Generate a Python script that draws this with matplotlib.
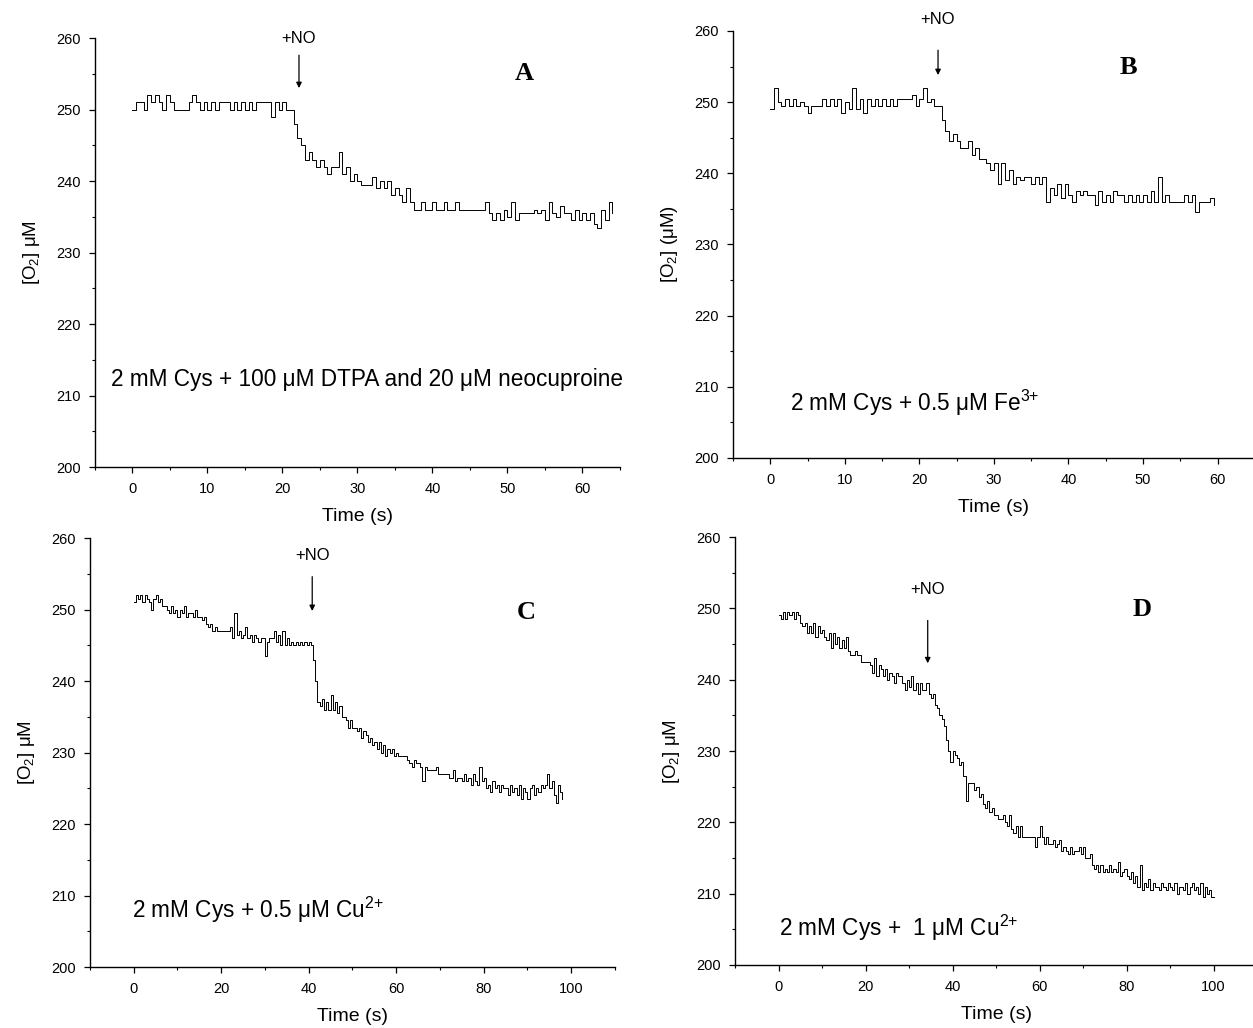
"""O2 consumption traces after NO addition, four conditions (A-D)."""

import matplotlib.pyplot as plt
import numpy as np
from matplotlib.ticker import MultipleLocator

plt.rcParams["font.family"] = ["Liberation Sans", "DejaVu Sans"]
plt.rcParams["mathtext.fontset"] = "custom"
plt.rcParams["mathtext.rm"] = "Liberation Sans"
plt.rcParams["mathtext.default"] = "regular"

# sampling step of each trace (s)
DT_A = 0.5
DT_B = 0.5
DT_C = 0.5
DT_D = 0.5

# [O2] (uM)
O2_A = [
    250, 251, 251, 250, 252, 251, 252, 251, 250, 252,
    251, 250, 250, 250, 250, 251, 252, 251, 250, 251,
    250, 251, 250, 251, 251, 251, 250, 251, 250, 251,
    250, 251, 250, 251, 251, 251, 251, 249, 251, 250,
    251, 250, 250, 248, 246, 245, 243, 244, 243, 242,
    243, 242, 241, 242, 242, 244, 241, 242, 240, 241,
    240, 239.5, 239.5, 239.5, 240.5, 239, 240, 239, 240, 238,
    239, 238, 237, 239, 237, 236, 236, 237, 236, 236,
    237, 236, 236, 237, 236, 236, 237, 236, 236, 236,
    236, 236, 236, 236, 237, 235.5, 234.5, 235.5, 234.5, 236,
    235, 237, 234.5, 235.5, 235.5, 235.5, 235.5, 236, 235.5, 236,
    234.5, 237, 235.5, 235, 236.5, 235.5, 235.5, 234.5, 236, 234.5,
    235.5, 234.5, 235.5, 234, 233.5, 236, 234.5, 237, 235.5,
]

O2_B = [
    249, 252, 250, 249.5, 250.5, 249.5, 250.5, 249.5, 250, 249.5,
    248.5, 249.5, 249.5, 249.5, 250.5, 249.5, 250.5, 249.5, 250.5, 248.5,
    250, 249, 252, 249, 250.5, 248.5, 250.5, 249.5, 250.5, 249.5,
    250.5, 249.5, 250.5, 249.5, 250.5, 250.5, 250.5, 250.5, 251, 249.5,
    250.5, 252, 250, 250.5, 249.5, 249.5, 247.5, 246, 244.5, 245.5,
    244.5, 243.5, 243.5, 244.5, 242.5, 243.5, 242, 242, 241.5, 240.5,
    241.5, 238.5, 241.5, 239, 240.5, 238.5, 239.5, 239, 239.5, 239.5,
    238.5, 239.5, 238.5, 239.5, 236, 238, 237, 238.5, 236.5, 238.5,
    237, 236, 237.5, 237, 237.5, 237, 237, 235.5, 237.5, 236,
    237, 236, 237.5, 237, 237, 236, 237, 236, 237, 236,
    237, 236, 237.5, 236, 239.5, 236, 237, 236, 236, 236,
    236, 237, 236, 237, 234.5, 236, 236, 236, 236.5, 235.5,
]

O2_C = [
    251, 252, 251.5, 252, 251, 252, 251.5, 251, 250, 251.5,
    252, 251, 251.5, 250.5, 250.5, 250, 249.5, 250.5, 249.5, 250,
    249, 250, 249.5, 250.5, 249, 249.5, 249.5, 249, 250, 249,
    249, 248.5, 249, 248, 247.5, 248, 247, 247.5, 247, 247,
    247, 247, 247, 247, 247.5, 246, 249.5, 246.5, 247, 246,
    246.5, 247.5, 246, 246.5, 245.5, 246.5, 246, 245.5, 246, 246,
    243.5, 245.5, 246, 246, 247, 245.5, 246.5, 245, 247, 245,
    246, 245, 245.5, 245, 245.5, 245, 245.5, 245, 245.5, 245,
    245.5, 245, 243, 240, 237, 236.5, 237.5, 236, 237, 236,
    238, 236, 237, 235.5, 236.5, 235, 235, 234.5, 233.5, 234.5,
    233.5, 233.5, 233, 233.5, 232, 233, 232.5, 231.5, 232, 231,
    231.5, 230.5, 231.5, 230, 231, 229.5, 230.5, 230, 230.5, 229.5,
    230, 229.5, 229.5, 229.5, 229.5, 229, 228.5, 228, 229, 228.5,
    228.5, 228, 226, 228, 227.5, 227.5, 227.5, 227.5, 228, 227,
    227, 227, 227, 227, 226.5, 226.5, 227.5, 226, 226.5, 226.5,
    226, 227, 226, 226.5, 225.5, 227, 226, 225.5, 228, 226,
    226.5, 225, 225.5, 224.5, 226, 225, 225.5, 224.5, 225.5, 225,
    225, 224, 225.5, 224.5, 225, 224, 225.5, 223.5, 225, 224.5,
    223.5, 225, 225.5, 224, 225, 224.5, 225.5, 225, 225.5, 227,
    225, 226, 224, 223, 225.5, 224.5, 223.5,
]

O2_D = [
    249, 248.5, 249.5, 248.5, 249.5, 249, 249.5, 248.5, 249.5, 249,
    248, 247.5, 248, 246.5, 247.5, 246.5, 248, 246, 247.5, 246.5,
    247, 246, 245.5, 246.5, 244.5, 246.5, 245, 246, 244.5, 245.5,
    244.5, 246, 244, 243.5, 243.5, 244, 243.5, 243.5, 242.5, 242.5,
    242.5, 242.5, 242, 241, 243, 240.5, 242, 241.5, 240.5, 241.5,
    240, 241, 240.5, 239.5, 241, 240.5, 240.5, 239.5, 238.5, 240,
    239, 240.5, 238.5, 239.5, 238, 239.5, 238.5, 238.5, 239.5, 238,
    237.5, 238, 236.5, 236, 235, 234.5, 233.5, 231.5, 230, 228.5,
    230, 229.5, 229, 228, 228.5, 226.5, 223, 225.5, 225.5, 225.5,
    224.5, 225, 223.5, 224, 222.5, 222, 223, 221.5, 222, 221,
    221, 220.5, 220.5, 221, 220, 219.5, 221, 219, 218.5, 219.5,
    218, 219.5, 218, 218, 218, 218, 218, 218, 216.5, 218,
    219.5, 218, 217, 218, 217, 217, 217.5, 216.5, 217, 217.5,
    216, 216.5, 216, 215.5, 216.5, 215.5, 216, 216, 216.5, 215.5,
    216.5, 215, 215, 215.5, 214, 213.5, 214, 213, 214, 213,
    213.5, 213, 214, 213, 213.5, 213, 214.5, 212.5, 213, 213.5,
    212.5, 212, 213, 211.5, 212.5, 211, 214, 210.5, 211.5, 211,
    212, 210.5, 211.5, 211, 211, 210.5, 211.5, 211, 210.5, 211.5,
    211, 210.5, 211.5, 210, 211, 211, 210.5, 211.5, 210, 211,
    211.5, 210.5, 211, 210, 211.5, 209.5, 211, 210, 210.5, 209.5,
    209.5,
]

LABELS = [
    "2 mM Cys + 100 \u03bcM DTPA and 20 \u03bcM neocuproine",
    "2 mM Cys + 0.5 \u03bcM Fe$^{3{+}}$",
    "2 mM Cys + 0.5 \u03bcM Cu$^{2{+}}$",
    "2 mM Cys +  1 \u03bcM Cu$^{2{+}}$",
]
YLABELS = ["[O$_2$] \u03bcM", "[O$_2$] (\u03bcM)", "[O$_2$] \u03bcM", "[O$_2$] \u03bcM"]
LETTERS = ["A", "B", "C", "D"]
NO_TIME = [22.2, 22.5, 40.8, 34.3]

panels = [
    # data, dt, axes rect, xlim, x major, x minor, +NO text y, arrow start, arrow end,
    # letter pos, condition label pos
    dict(y=O2_A, dt=DT_A, rect=[0.0758, 0.5457, 0.4190, 0.4173], xlim=(-5, 65),
         xmaj=10, xmin=5, no_y=260.0, arr=(257.6, 253.0), letter=(52.3, 255.1),
         lab=(-2.9, 212.2)),
    dict(y=O2_B, dt=DT_B, rect=[0.5850, 0.5545, 0.4165, 0.4154], xlim=(-5, 65),
         xmaj=10, xmin=5, no_y=261.6, arr=(257.3, 253.8), letter=(48.0, 254.8),
         lab=(2.6, 207.8)),
    dict(y=O2_C, dt=DT_C, rect=[0.0718, 0.0593, 0.4190, 0.4173], xlim=(-10, 110),
         xmaj=20, xmin=10, no_y=257.5, arr=(254.6, 249.8), letter=(89.8, 249.6),
         lab=(-0.5, 208.0)),
    dict(y=O2_D, dt=DT_D, rect=[0.5866, 0.0613, 0.4166, 0.4163], xlim=(-10, 110),
         xmaj=20, xmin=10, no_y=252.7, arr=(248.3, 242.3), letter=(83.5, 249.8),
         lab=(0.0, 205.2)),
]

fig = plt.figure(figsize=(12.53, 10.28), dpi=100, facecolor="white")

for i, p in enumerate(panels):
    ax = fig.add_axes(p["rect"])
    vals = np.array(p["y"], dtype=float)
    t = np.arange(len(vals)) * p["dt"]
    ax.plot(t, vals, color="black", linewidth=0.7, drawstyle="steps-post")

    ax.set_xlim(*p["xlim"])
    ax.set_ylim(200, 260)
    ax.xaxis.set_major_locator(MultipleLocator(p["xmaj"]))
    ax.xaxis.set_minor_locator(MultipleLocator(p["xmin"]))
    ax.yaxis.set_major_locator(MultipleLocator(10))
    ax.yaxis.set_minor_locator(MultipleLocator(5))
    lo, hi = p["xlim"]
    ax.set_xticks([v for v in ax.get_xticks() if 0 <= v <= hi - 5])

    for side in ("top", "right"):
        ax.spines[side].set_visible(False)
    for side in ("left", "bottom"):
        ax.spines[side].set_linewidth(1.0)
    ax.tick_params(which="major", direction="out", length=4.5, width=0.9,
                   labelsize=10.5, pad=6)
    ax.tick_params(which="minor", direction="out", length=2.5, width=0.8)

    ax.set_xlabel("Time (s)", fontsize=14, labelpad=9)
    ax.set_ylabel(YLABELS[i], fontsize=13.5, labelpad=10)

    # +NO addition marker
    ax.text(NO_TIME[i], p["no_y"], "+NO", fontsize=12, ha="center", va="center",
            clip_on=False)
    ax.annotate("", xy=(NO_TIME[i], p["arr"][1]), xytext=(NO_TIME[i], p["arr"][0]),
                arrowprops=dict(arrowstyle="-|>", color="black", lw=0.9,
                                mutation_scale=8, shrinkA=0, shrinkB=0))

    ax.text(*p["letter"], LETTERS[i], fontsize=19, fontweight="bold",
            family=["Liberation Serif", "DejaVu Serif"], ha="center", va="center")
    ax.text(*p["lab"], LABELS[i], fontsize=16.3, ha="left", va="center")

plt.savefig("out.png", dpi=100, facecolor="white")
plt.close()
